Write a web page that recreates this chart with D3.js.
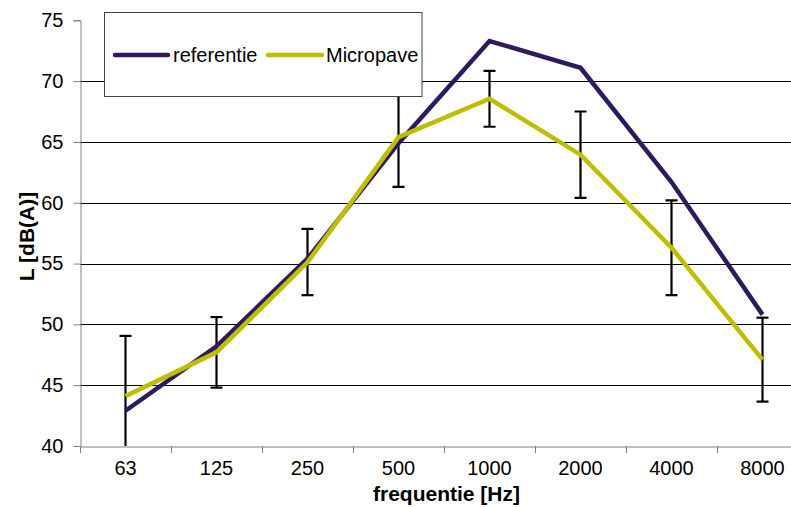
<!DOCTYPE html>
<html>
<head>
<meta charset="utf-8">
<script src="https://cdn.jsdelivr.net/npm/d3@7"></script>
<style>
  html, body { margin: 0; padding: 0; background: #fff; }
  svg { display: block; font-family: "Liberation Sans", Arial, sans-serif; }
</style>
</head>
<body>
<svg id="chart" width="791" height="507"></svg>
<script>
const categories = ["63", "125", "250", "500", "1000", "2000", "4000", "8000"];
const referentie = [42.9, 48.2, 55.4, 64.9, 73.3, 71.1, 61.7, 50.8];
const micropave  = [44.1, 47.7, 55.1, 65.4, 68.55, 63.95, 56.3, 47.1];
const errLow     = [39.15, 44.8, 52.4, 61.3, 66.25, 60.4, 52.4, 43.65];
const errHigh    = [49.05, 50.6, 57.85, 69.5, 70.85, 67.5, 60.2, 50.55];
const yTicks     = [40, 45, 50, 55, 60, 65, 70, 75];
const seriesNames = ["referentie", "Micropave"];

const colors = { referentie: "#2e1a5c", micropave: "#bebe00" };

const svg = d3.select("#chart");
const pL = 80, pR = 808, pT = 20.3, pB = 446;

const x = d3.scaleBand().domain(categories).range([pL, pR]).padding(0);
const y = d3.scaleLinear().domain([40, 75]).range([pB, pT]);

svg.append("defs").append("clipPath").attr("id", "plotclip")
  .append("rect").attr("x", pL).attr("y", pT).attr("width", pR - pL).attr("height", pB - pT);

// gridlines
svg.append("g").selectAll("line")
  .data(yTicks.filter(v => v > 40 && v < 75))
  .join("line")
  .attr("x1", pL).attr("x2", pR)
  .attr("y1", d => Math.round(y(d)) + 0.5).attr("y2", d => Math.round(y(d)) + 0.5)
  .attr("stroke", "#000").attr("stroke-width", 1);

// y axis
const yAxis = d3.axisLeft(y).tickValues(yTicks).tickSize(7).tickPadding(10).tickFormat(d3.format("d"));
const gy = svg.append("g").attr("transform", `translate(${pL + 0.5},0)`).call(yAxis);
gy.select(".domain").attr("stroke", "#808080");
gy.selectAll(".tick line").attr("stroke", "#808080");
gy.selectAll(".tick text").attr("font-size", 20).attr("fill", "#000")
  .attr("font-family", "Liberation Sans, Arial, sans-serif");

// x axis
const xAxis = d3.axisBottom(x).tickSize(0).tickPadding(14);
const gx = svg.append("g").attr("transform", `translate(0,${pB + 0.5})`).call(xAxis);
gx.select(".domain").attr("stroke", "#808080");
gx.selectAll(".tick text").attr("font-size", 20).attr("fill", "#000")
  .attr("font-family", "Liberation Sans, Arial, sans-serif");
// category boundary ticks
svg.append("g").selectAll("line")
  .data(categories.concat(["__end"]))
  .join("line")
  .attr("x1", (d, i) => Math.round(pL + i * x.step()) + 0.5)
  .attr("x2", (d, i) => Math.round(pL + i * x.step()) + 0.5)
  .attr("y1", pB).attr("y2", pB + 7)
  .attr("stroke", "#808080");

// error bars (Micropave)
const eb = svg.append("g").attr("clip-path", "url(#plotclip)");
const cx = d => x(d) + x.bandwidth() / 2;
categories.forEach((c, i) => {
  const xc = cx(c);
  eb.append("line").attr("x1", xc).attr("x2", xc)
    .attr("y1", y(errLow[i])).attr("y2", y(errHigh[i]))
    .attr("stroke", "#000").attr("stroke-width", 2.2);
  [errLow[i], errHigh[i]].forEach(v => {
    eb.append("line").attr("x1", xc - 6).attr("x2", xc + 6)
      .attr("y1", y(v)).attr("y2", y(v))
      .attr("stroke", "#000").attr("stroke-width", 2.2);
  });
});

// lines
const line = d3.line().x((d, i) => cx(categories[i])).y(d => y(d));
svg.append("path").datum(referentie).attr("d", line)
  .attr("fill", "none").attr("stroke", colors.referentie).attr("stroke-width", 4.5)
  .attr("stroke-linejoin", "miter");
svg.append("path").datum(micropave).attr("d", line)
  .attr("fill", "none").attr("stroke", colors.micropave).attr("stroke-width", 4.5)
  .attr("stroke-linejoin", "miter");

// legend
const lg = svg.append("g");
lg.append("rect").attr("x", 104.5).attr("y", 12.5).attr("width", 317.5).attr("height", 84)
  .attr("fill", "#fff").attr("stroke", "#404040").attr("stroke-width", 1);
const legendItems = [
  { name: seriesNames[0], color: colors.referentie, x1: 115, x2: 168, tx: 173 },
  { name: seriesNames[1], color: colors.micropave, x1: 268, x2: 322, tx: 326 }
];
legendItems.forEach(it => {
  lg.append("line").attr("x1", it.x1).attr("x2", it.x2).attr("y1", 55).attr("y2", 55)
    .attr("stroke", it.color).attr("stroke-width", 4.5).attr("stroke-linecap", "round");
  lg.append("text").attr("x", it.tx).attr("y", 62).attr("font-size", 20).attr("fill", "#000")
    .text(it.name);
});

// axis titles
svg.append("text").attr("x", 446.5).attr("y", 501).attr("text-anchor", "middle")
  .attr("font-size", 21).attr("font-weight", "bold").text("frequentie [Hz]");
svg.append("text").attr("transform", "translate(33.5,236.5) rotate(-90)")
  .attr("text-anchor", "middle").attr("font-size", 21).attr("font-weight", "bold").text("L [dB(A)]");
</script>
</body>
</html>
